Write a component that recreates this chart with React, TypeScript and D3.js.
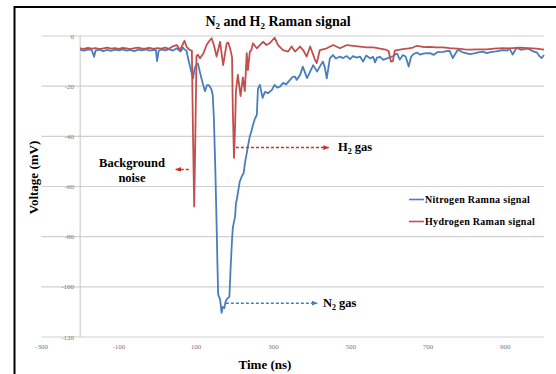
import * as d3 from 'd3';

// time (ns), voltage (mV)
const nitrogenSignal: [number, number][] = [
  [-200, -5.5], [-190, -5.8], [-180, -5.3], [-170, -5.6], [-164, -8.3], [-160, -5.8], [-150, -5.4],
  [-140, -6.0], [-130, -5.5], [-120, -5.9], [-110, -5.4], [-100, -5.7], [-90, -5.3], [-80, -5.8],
  [-70, -5.5], [-60, -6.0], [-50, -5.4], [-40, -5.7], [-30, -5.3], [-20, -5.8], [-10, -5.5],
  [-4, -5.6], [-1, -10], [3, -6.0], [10, -5.3], [20, -5.7], [30, -5.2], [40, -5.8], [50, -4.9],
  [55, -5.6], [60, -6.2], [66, -4.6], [70, -5.4], [75, -5.8], [79, -8.8], [84, -12], [88, -14.5],
  [92, -16.9], [96, -13], [100, -11.6], [105, -11.0], [110, -14.5], [117, -18.8], [123, -22],
  [128, -19.6], [133, -19.6], [139, -21], [143, -23.5], [146, -33], [150, -55], [153, -75],
  [155, -90], [157, -103], [162, -105], [166, -110.4], [169, -108], [173, -108.5], [176, -106],
  [179, -105], [182, -104.5], [186, -104], [190, -90], [193, -81], [195, -76.5], [198, -74],
  [201, -72], [203, -66.6], [205, -65.4], [208, -62.6], [213, -58], [218, -56], [223, -54.6],
  [227, -50], [231, -46.7], [234, -44], [239, -40], [243, -38], [247, -35.5], [252, -33],
  [257, -31.5], [260, -21], [265, -19.5], [272, -24.7], [278, -22.3], [286, -22.8], [296, -21.5],
  [303, -19.5], [310, -20.6], [317, -20.2], [325, -18.7], [333, -19.3], [343, -17.5], [349, -16.4],
  [356, -16.2], [360, -17.5], [369, -15.5], [376, -12.2], [387, -16.8], [395, -14.2], [403, -11.6],
  [413, -14.2], [420, -12.2], [428, -10.2], [433, -12.5], [438, -16.9], [446, -8.9], [454, -7.6],
  [462, -9], [472, -8.2], [480, -8.8], [490, -8.0], [498, -9.2], [506, -8.0], [515, -8.6],
  [524, -8.2], [532, -10.2], [540, -7.8], [550, -8.9], [558, -8.3], [563, -10.5], [568, -8.6],
  [576, -8.3], [584, -9.5], [594, -8.9], [600, -8.5], [609, -8.1], [614, -7.4], [620, -7.0],
  [627, -9.4], [635, -7.6], [642, -8.2], [650, -12.2], [656, -8.4], [661, -7.4], [671, -6.6],
  [679, -7.4], [690, -6.9], [705, -6.8], [715, -7.5], [725, -6.4], [739, -6.3], [748, -6.0],
  [756, -5.9], [764, -8.8], [777, -5.5], [790, -6.5], [808, -7.2], [820, -6.9], [830, -6.5],
  [842, -6.2], [852, -6.8], [865, -6.3], [877, -6.1], [893, -5.6], [905, -5.8], [911, -5.0],
  [919, -7.4], [929, -4.7], [940, -5.5], [950, -5.2], [958, -5.0], [970, -6.0], [981, -6.5],
  [988, -8.0], [994, -8.8], [1000, -7.6],
];

const hydrogenSignal: [number, number][] = [
  [-200, -4.9], [-190, -5.1], [-180, -4.7], [-170, -5.0], [-160, -4.8], [-150, -5.2], [-140, -4.9],
  [-130, -4.6], [-120, -5.0], [-110, -4.8], [-100, -5.1], [-90, -4.7], [-80, -4.9], [-70, -5.2],
  [-60, -4.8], [-50, -4.6], [-40, -5.0], [-30, -4.9], [-20, -4.7], [-10, -5.1], [0, -4.8],
  [10, -5.0], [20, -4.6], [30, -5.1], [41, -4.0], [50, -3.6], [58, -5.6], [64, -3.8], [70, -1.9],
  [76, -4.5], [84, -5.6], [89, -5.8], [92, -40], [95, -68], [98, -40], [101, -8.0], [105, -7.5],
  [110, -8.9], [119, -6.9], [127, -3.6], [134, -2.0], [140, -0.9], [146, -3.6], [153, -8.2],
  [162, -2.3], [170, -11.6], [179, -3.0], [183, -2.6], [188, -5.0], [193, -8.5], [195, -30],
  [198, -48.6], [201, -35], [203, -22], [208, -15.5], [215, -24], [221, -16.5], [226, -22],
  [231, -6.8], [234, -13.6], [239, -6.2], [243, -5.6], [247, -2.9], [257, -4.9], [265, -3.6],
  [273, -2.3], [282, -3.6], [290, -2.9], [303, -0.7], [312, -3.6], [325, -5.6], [338, -6.2],
  [347, -4.2], [356, -6.2], [369, -4.2], [377, -5.6], [386, -8.2], [395, -4.2], [408, -9.6],
  [412, -10.8], [420, -5.6], [438, -4.9], [455, -3.6], [472, -4.9], [490, -3.6], [507, -3.9],
  [524, -4.2], [541, -4.5], [559, -4.5], [576, -5.0], [590, -5.4], [598, -6.0], [604, -10.2],
  [609, -10.0], [614, -5.8], [620, -5.6], [635, -5.2], [650, -4.9], [661, -4.6], [671, -3.9],
  [680, -4.1], [690, -4.4], [705, -4.3], [720, -4.5], [739, -4.5], [756, -4.8], [777, -5.0],
  [795, -5.3], [808, -5.4], [830, -5.3], [852, -5.3], [870, -5.0], [893, -4.8], [910, -4.9],
  [937, -4.6], [958, -4.8], [981, -5.0], [1000, -5.4],
];

const xTicks = [-300, -100, 100, 300, 500, 700, 900];
const yTicks = [0, -20, -40, -60, -80, -100, -120];

const BLUE = '#4a7ebb';
const RED = '#c0504d';
const ARROW_RED = '#c9302c';
const ARROW_BLUE = '#3f7fc8';
const FONT = '"Liberation Serif", "Times New Roman", serif';

export default function App() {
  const x = d3.scaleLinear().domain([-300, 1000]).range([41.5, 544]);
  const y = d3.scaleLinear().domain([-120, 0]).range([337, 36]);
  const line = d3.line<[number, number]>().x((d) => x(d[0])).y((d) => y(d[1]));

  return (
    <svg width={556} height={374} style={{ position: 'absolute', left: 0, top: 0, background: '#fff' }}>
      <defs>
        <marker id="headRed" viewBox="0 0 10 10" refX="9" refY="5" markerWidth="4" markerHeight="4" orient="auto">
          <path d="M0,1 L10,5 L0,9 z" fill={ARROW_RED} />
        </marker>
        <marker id="headBlue" viewBox="0 0 10 10" refX="9" refY="5" markerWidth="4" markerHeight="4" orient="auto">
          <path d="M0,1 L10,5 L0,9 z" fill={ARROW_BLUE} />
        </marker>
      </defs>

      {/* frame */}
      <rect x={14.5} y={7} width={600} height={400} fill="none" stroke="#000" strokeWidth={2} />

      {/* grid */}
      {yTicks.map((t) => (
        <line key={t} x1={x(-300)} x2={x(1000)} y1={y(t)} y2={y(t)} stroke="#d0d0d0" strokeWidth={1.2} />
      ))}
      <line x1={x(-200)} x2={x(-200)} y1={y(0)} y2={y(-120)} stroke="#c4c4c4" strokeWidth={1} />

      {yTicks.map((t) => (
        <text key={t} x={74} y={y(t) + 2.5} textAnchor="end" fontSize={7} fill="#7a7a7a" fontFamily={FONT}>
          {t}
        </text>
      ))}
      {xTicks.map((t) => (
        <text key={t} x={x(t)} y={349} textAnchor="middle" fontSize={7} fill="#7a7a7a" fontFamily={FONT}>
          {t}
        </text>
      ))}

      {/* series */}
      <path d={line(nitrogenSignal) || ''} fill="none" stroke={BLUE} strokeWidth={1.8} strokeLinejoin="round" />
      <path d={line(hydrogenSignal) || ''} fill="none" stroke={RED} strokeWidth={1.8} strokeLinejoin="round" />

      {/* title */}
      <text x={278} y={26} textAnchor="middle" fontSize={14} fontWeight="bold" fontFamily={FONT}>
        N<tspan fontSize={9} dy={3}>2</tspan>
        <tspan dy={-3}> and H</tspan>
        <tspan fontSize={9} dy={3}>2</tspan>
        <tspan dy={-3}> Raman signal</tspan>
      </text>

      {/* axis titles */}
      <text
        transform="translate(38,177.5) rotate(-90)"
        textAnchor="middle"
        fontSize={13}
        fontWeight="bold"
        fontFamily={FONT}
      >
        Voltage (mV)
      </text>
      <text x={265} y={369} textAnchor="middle" fontSize={13} fontWeight="bold" fontFamily={FONT}>
        Time (ns)
      </text>

      {/* annotations */}
      <line
        x1={x(81)} x2={x(47)} y1={y(-53.2)} y2={y(-53.2)}
        stroke={ARROW_RED} strokeWidth={1.5} strokeDasharray="3,2" markerEnd="url(#headRed)"
      />
      <text x={x(-66)} y={y(-52.3)} textAnchor="middle" fontSize={12.5} fontWeight="bold" fontFamily={FONT}>
        Background
      </text>
      <text x={x(-66)} y={y(-58.3)} textAnchor="middle" fontSize={12.5} fontWeight="bold" fontFamily={FONT}>
        noise
      </text>

      <line
        x1={x(203)} x2={x(443)} y1={y(-44.5)} y2={y(-44.5)}
        stroke={ARROW_RED} strokeWidth={1.5} strokeDasharray="3,2" markerEnd="url(#headRed)"
      />
      <text x={x(467)} y={y(-45.9)} fontSize={12.5} fontWeight="bold" fontFamily={FONT}>
        H<tspan fontSize={8} dy={3}>2</tspan>
        <tspan dy={-3}> gas</tspan>
      </text>

      <line
        x1={x(177)} x2={x(413)} y1={y(-106.5)} y2={y(-106.5)}
        stroke={ARROW_BLUE} strokeWidth={1.5} strokeDasharray="3,2" markerEnd="url(#headBlue)"
      />
      <text x={x(428)} y={y(-108)} fontSize={12.5} fontWeight="bold" fontFamily={FONT}>
        N<tspan fontSize={8} dy={3}>2</tspan>
        <tspan dy={-3}> gas</tspan>
      </text>

      {/* legend */}
      <line x1={409} x2={424} y1={199.5} y2={199.5} stroke={BLUE} strokeWidth={1.6} />
      <text x={425} y={202.5} fontSize={10} fontWeight="bold" fontFamily={FONT} letterSpacing={0.3}>
        Nitrogen Ramna signal
      </text>
      <line x1={409} x2={424} y1={221.5} y2={221.5} stroke={RED} strokeWidth={1.6} />
      <text x={425} y={224.5} fontSize={10} fontWeight="bold" fontFamily={FONT} letterSpacing={0.3}>
        Hydrogen Raman signal
      </text>
    </svg>
  );
}
